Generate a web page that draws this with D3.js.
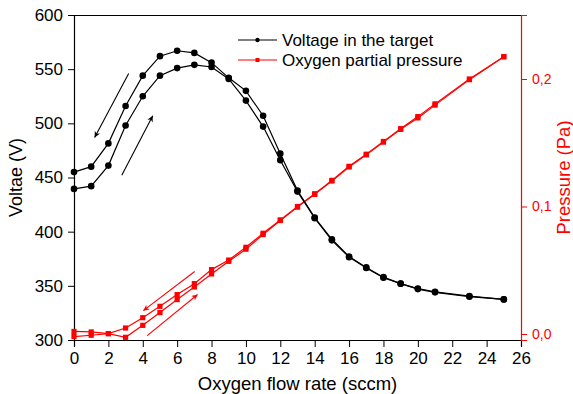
<!DOCTYPE html>
<html><head><meta charset="utf-8">
<script src="https://cdn.jsdelivr.net/npm/d3@7"></script>
<style>
html,body{margin:0;padding:0;background:#fff;}
svg{display:block;font-family:"Liberation Sans",Arial,sans-serif;}
</style></head>
<body><svg id="c" width="573" height="394"></svg>
<script>
// ---- data ----
const flow = [0,1,2,3,4,5,6,7,8,9,10,11,12,13,14,15,16,17,18,19,20,21,23,25];
const voltageDown = [455,460,481.5,516,544,562,567,565,556,542,530,507,472,438,413,393,377,367,358,352,347.5,344.5,340.5,337.5];
const voltageUp   = [439.5,442,461,498,525,544,551,554,552,541,521,497,466,437,412.5,392,376.5,366.5,357.5,352,347,344,340,337.5];
const pressureDown = [0.002,0.0016,0.0003,0.0047,0.0128,0.0217,0.0309,0.0395,0.0505,0.058,0.068,0.079,0.0895,0.1,0.11,0.1205,0.1315,0.141,0.151,0.161,0.1705,0.1805,0.2,0.2175];
const pressureUp   = [-0.002,-0.001,0.0003,-0.0026,0.0068,0.0168,0.027,0.0369,0.0471,0.057,0.0665,0.078,0.089,0.0995,0.1095,0.12,0.131,0.1405,0.1505,0.1605,0.1695,0.1795,0.1995,0.2175];
const xTicks = [0,2,4,6,8,10,12,14,16,18,20,22,24,26];
const vTicks = [300,350,400,450,500,550,600];
const pTicks = [0.0,0.1,0.2];
const pTickLabels = ["0,0","0,1","0,2"];
const legendLabels = ["Voltage in the target","Oxygen partial pressure"];
const voltArrows = [[3.18,546,1.2,487],[2.78,452,4.58,507]];
const pressArrows = [[7.02,0.049,4.03,0.0183],[4.26,-0.0013,7.19,0.031]];

// ---- layout ----
const W=573,H=394, L=74, R=521, T=15, B=340;
const RED="#ff0000";
const svg=d3.select("#c");
const x=d3.scaleLinear().domain([0,26]).range([L,R]);
const yV=d3.scaleLinear().domain([300,600]).range([B,T]);
const yP=d3.scaleLinear().domain([-6/1275,319/1275]).range([B,T]);

// marker defs
const defs=svg.append("defs");
function arrowDef(id,color){
  defs.append("marker").attr("id",id).attr("viewBox","0 0 10 10").attr("refX",10).attr("refY",5)
   .attr("markerWidth",9).attr("markerHeight",6).attr("markerUnits","userSpaceOnUse").attr("orient","auto")
   .append("path").attr("d","M0,0 L10,5 L0,10 L3,5 Z").attr("fill",color);
}
arrowDef("ab","#000"); arrowDef("ar",RED);

// top border
svg.append("line").attr("x1",L).attr("x2",R).attr("y1",T+0.5).attr("y2",T+0.5).attr("stroke","#000").attr("stroke-width",1.2);

// axes
const fs=17;
const gx=svg.append("g").attr("transform",`translate(0,${B})`)
  .call(d3.axisBottom(x).tickValues(d3.range(0,27,1)).tickSize(4).tickFormat(""));
gx.call(d3.axisBottom(x).tickValues(xTicks).tickSize(7).tickPadding(5).tickFormat(d3.format("d")));
const gl=svg.append("g").attr("transform",`translate(${L},0)`)
  .call(d3.axisLeft(yV).tickValues(d3.range(300,601,25)).tickSize(4).tickFormat(""));
gl.call(d3.axisLeft(yV).tickValues(vTicks).tickSize(6).tickPadding(5).tickFormat(d3.format("d")));
const gr=svg.append("g").attr("transform",`translate(${R},0)`)
  .call(d3.axisRight(yP).tickValues([0,0.05,0.1,0.15,0.2]).tickSize(4).tickFormat(""));
gr.call(d3.axisRight(yP).tickValues(pTicks).tickSize(6).tickPadding(5).tickFormat((d,i)=>pTickLabels[i]));
[gx,gl].forEach(g=>{g.selectAll("path.domain").attr("stroke","#000").attr("stroke-width",1.2);
  g.selectAll("line").attr("stroke","#000").attr("stroke-width",1);
  g.selectAll("text").attr("fill","#000").attr("font-size",fs).attr("font-family","Liberation Sans, Arial, sans-serif");});
gr.selectAll("path.domain").attr("stroke",RED).attr("stroke-width",1.2);
gr.selectAll("line").attr("stroke",RED).attr("stroke-width",1);
gr.selectAll("text").attr("fill",RED).attr("font-size",14).attr("font-family","Liberation Sans, Arial, sans-serif");
svg.selectAll(".domain").each(function(){});

// axis titles
svg.append("text").attr("x",(L+R)/2).attr("y",390).attr("text-anchor","middle").attr("font-size",18.5).text("Oxygen flow rate (sccm)");
svg.append("text").attr("transform",`translate(22,${(T+B)/2}) rotate(-90)`).attr("text-anchor","middle").attr("font-size",18).text("Voltae (V)");
svg.append("text").attr("transform",`translate(570,${(T+B)/2}) rotate(-90)`).attr("text-anchor","middle").attr("font-size",18.5).attr("fill",RED).text("Pressure (Pa)");

// series
const pts=(ys)=>flow.map((f,i)=>[f,ys[i]]);
const lineV=d3.line().x(d=>x(d[0])).y(d=>yV(d[1]));
const lineP=d3.line().x(d=>x(d[0])).y(d=>yP(d[1]));
[pressureDown,pressureUp].forEach(s=>{
  svg.append("path").attr("d",lineP(pts(s))).attr("fill","none").attr("stroke",RED).attr("stroke-width",1.2);
  svg.append("g").selectAll("rect").data(pts(s)).join("rect")
   .attr("x",d=>x(d[0])-2.6).attr("y",d=>yP(d[1])-2.6).attr("width",5.2).attr("height",5.2).attr("fill",RED);
});
[voltageDown,voltageUp].forEach(s=>{
  svg.append("path").attr("d",lineV(pts(s))).attr("fill","none").attr("stroke","#000").attr("stroke-width",1.2);
  svg.append("g").selectAll("circle").data(pts(s)).join("circle")
   .attr("cx",d=>x(d[0])).attr("cy",d=>yV(d[1])).attr("r",3.3).attr("fill","#000");
});

// arrows
voltArrows.forEach(a=>svg.append("line").attr("x1",x(a[0])).attr("y1",yV(a[1])).attr("x2",x(a[2])).attr("y2",yV(a[3]))
  .attr("stroke","#000").attr("stroke-width",1.1).attr("marker-end","url(#ab)"));
pressArrows.forEach(a=>svg.append("line").attr("x1",x(a[0])).attr("y1",yP(a[1])).attr("x2",x(a[2])).attr("y2",yP(a[3]))
  .attr("stroke",RED).attr("stroke-width",1.1).attr("marker-end","url(#ar)"));

// legend
const lg=svg.append("g");
[["#000","c"],[RED,"s"]].forEach((m,i)=>{
  const yy=40+i*20;
  lg.append("line").attr("x1",238).attr("x2",277).attr("y1",yy).attr("y2",yy).attr("stroke",m[0]).attr("stroke-width",1.2);
  if(m[1]==="c") lg.append("circle").attr("cx",257.5).attr("cy",yy).attr("r",2.2).attr("fill",m[0]);
  else lg.append("rect").attr("x",255.5).attr("y",yy-2).attr("width",4).attr("height",4).attr("fill",m[0]);
  lg.append("text").attr("x",282).attr("y",yy).attr("dy","0.35em").attr("font-size",17).attr("fill","#000").text(legendLabels[i]);
});
</script></body></html>
